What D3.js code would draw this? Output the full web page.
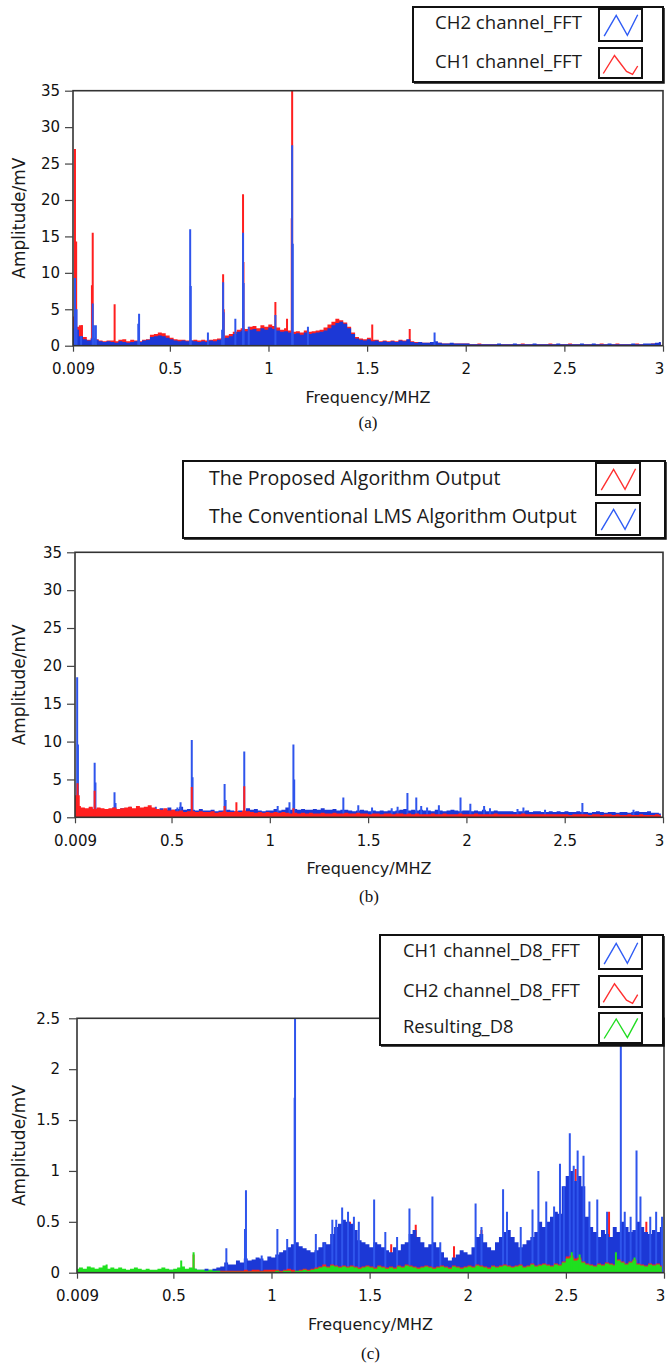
<!DOCTYPE html>
<html><head><meta charset="utf-8">
<script src="https://cdn.jsdelivr.net/npm/d3@7/dist/d3.min.js"></script>
<style>body{margin:0;background:#fff}svg{display:block}</style>
</head><body>
<svg id="chart" width="667" height="1369"></svg>
<script>
// ---------- data ----------
// spectra sampled on FFT bins starting at 0.009 MHz with 0.02 MHz spacing
const binStart = 0.009, binStep = 0.02;
const freqTicks = [0.009, 0.5, 1, 1.5, 2, 2.5, 3];
const ampTicksAB = [0, 5, 10, 15, 20, 25, 30, 35];
const ampTicksC = [0, 0.5, 1, 1.5, 2, 2.5];

// (a)
const aCH2Env = [
 2.4,2.2,1.3,0.9,0.7,1.0,0.8,0.6,0.5,0.6, 0.5,0.4,0.6,0.5,0.4,0.5,0.6,0.5,0.7,0.8,
 1.2,1.3,1.4,1.3,1.1,0.9,0.7,0.6,0.7,0.6, 0.7,0.6,0.5,0.6,0.5,0.7,0.6,0.8,0.9,1.1,
 1.3,1.6,1.9,2.1,2.0,2.2,2.3,2.0,2.4,2.2, 2.5,2.3,2.1,1.9,2.0,1.8,1.6,1.7,1.5,1.8,
 1.6,1.7,1.8,1.9,2.1,2.4,2.8,3.1,3.3,3.0, 2.4,1.6,1.0,0.8,0.7,0.9,0.6,0.7,0.5,0.6,
 0.5,0.6,0.5,0.7,0.6,0.9,0.5,0.4,0.5,0.4, 0.4,0.5,0.6,0.4,0.3,0.3,0.4,0.3,0.3,0.3,
 0.3,0.2,0.2,0.2,0.2,0.2,0.2,0.2,0.3,0.2, 0.2,0.2,0.3,0.2,0.2,0.2,0.2,0.3,0.2,0.2,
 0.2,0.2,0.2,0.3,0.2,0.2,0.2,0.2,0.2,0.3, 0.2,0.2,0.3,0.2,0.2,0.2,0.3,0.2,0.2,0.2,
 0.2,0.2,0.3,0.2,0.2,0.3,0.3,0.3,0.4,0.5];
const aCH1Env = [
 2.8,2.6,2.8,1.2,0.8,1.1,0.9,0.7,0.6,0.7, 0.7,0.6,0.8,0.9,0.6,0.8,0.7,0.6,0.8,0.9,
 1.5,1.6,1.8,1.7,1.4,1.1,0.9,0.8,0.8,0.7, 0.7,0.8,0.7,0.8,0.7,0.8,0.9,1.0,1.1,1.4,
 1.6,1.9,2.2,2.4,2.3,2.6,2.7,2.4,2.8,2.6, 2.9,2.7,2.5,2.2,2.4,2.1,1.9,2.0,1.8,2.1,
 1.9,2.0,2.1,2.2,2.5,2.9,3.3,3.7,3.5,3.2, 2.6,1.8,1.2,1.0,0.9,1.1,0.8,0.8,0.6,0.7,
 0.6,0.7,0.6,0.8,0.7,0.8,0.6,0.5,0.5,0.4, 0.4,0.5,0.4,0.4,0.3,0.3,0.3,0.3,0.3,0.3,
 0.3,0.2,0.2,0.3,0.2,0.2,0.2,0.2,0.2,0.2, 0.2,0.2,0.2,0.2,0.3,0.2,0.2,0.2,0.2,0.2,
 0.2,0.3,0.2,0.2,0.2,0.2,0.3,0.2,0.2,0.2, 0.2,0.2,0.2,0.2,0.3,0.2,0.2,0.2,0.3,0.2,
 0.2,0.2,0.2,0.3,0.2,0.2,0.2,0.3,0.3,0.4];
const aCH2Peaks = [[0.019,9.3],[0.027,5.0],[0.05,1.3],[0.109,5.8],[0.115,2.8],[0.125,2.8],[0.34,3.0],[0.344,4.4],
 [0.603,16.0],[0.606,8.2],[0.693,1.8],[0.765,2.2],[0.77,8.7],[0.773,4.6],[0.832,3.7],[0.871,15.5],[0.874,8.6],
 [0.9,2.6],[1.035,4.2],[1.12,27.5],[1.123,14],[1.2,2.6],[1.842,1.8]];
const aCH1Peaks = [[0.009,4.0],[0.019,27],[0.025,14.3],[0.054,2.8],[0.105,8.3],[0.109,15.5],[0.22,5.7],
 [0.77,9.8],[0.773,5.0],[0.871,20.8],[0.873,11.5],[1.035,6.0],[1.094,3.7],[1.118,17.5],[1.12,35],
 [1.41,2.5],[1.526,2.9],[1.716,2.3]];

// (b)
const bLMSEnv = [
 2.2,1.3,1.2,1.1,1.3,1.0,1.2,1.1,0.9,1.0, 1.3,1.0,1.2,1.1,1.3,1.0,1.1,1.2,1.0,1.3,
 1.1,1.0,1.2,1.0,1.3,1.0,1.1,1.4,1.0,1.1, 1.0,0.9,1.1,0.9,0.9,1.0,0.8,0.9,0.9,1.0,
 0.9,0.8,0.9,0.8,1.2,1.0,1.1,0.9,0.8,0.9, 0.9,1.1,0.9,1.0,1.3,1.0,1.1,1.0,1.1,1.0,
 1.0,1.1,1.0,1.2,1.0,1.0,1.1,0.9,1.0,1.0, 0.9,0.8,0.9,1.0,0.9,0.8,0.9,0.8,0.9,0.8,
 0.9,0.8,0.9,1.0,1.1,0.9,1.0,0.9,1.0,0.9, 0.9,0.8,1.0,0.9,0.8,0.9,1.0,0.9,0.8,0.9,
 0.9,0.8,0.9,0.8,1.0,0.8,0.8,0.9,0.8,0.8, 0.8,0.8,0.7,0.8,0.8,0.9,0.7,0.8,0.8,0.7,
 0.7,0.8,0.7,0.8,0.7,0.8,0.7,0.7,0.8,0.7, 0.7,0.6,0.7,0.8,0.7,0.6,0.7,0.7,0.6,0.7,
 0.7,0.6,0.7,0.8,0.7,0.7,0.8,0.6,0.6,0.5];
const bProposedEnv = [
 2.9,1.5,1.3,1.2,1.4,1.1,1.3,1.2,1.1,1.2, 1.3,1.1,1.2,1.3,1.4,1.2,1.5,1.3,1.4,1.6,
 1.3,1.1,1.0,1.2,0.9,1.0,0.8,0.9,0.7,0.8, 0.8,0.7,0.8,0.7,0.7,0.8,0.6,0.7,0.8,0.7,
 0.7,0.8,0.7,0.9,0.8,0.7,0.6,0.7,0.6,0.7, 0.6,0.7,0.6,0.7,0.6,0.5,0.6,0.5,0.6,0.5,
 0.6,0.5,0.5,0.6,0.5,0.5,0.6,0.5,0.5,0.6, 0.5,0.5,0.6,0.5,0.5,0.4,0.5,0.5,0.4,0.5,
 0.5,0.4,0.5,0.5,0.4,0.5,0.4,0.5,0.4,0.4, 0.4,0.5,0.4,0.4,0.5,0.4,0.4,0.4,0.5,0.4,
 0.4,0.4,0.5,0.4,0.4,0.4,0.4,0.5,0.4,0.4, 0.4,0.4,0.4,0.4,0.5,0.4,0.4,0.4,0.4,0.4,
 0.4,0.4,0.4,0.4,0.4,0.4,0.3,0.4,0.4,0.4, 0.4,0.3,0.4,0.4,0.3,0.4,0.4,0.3,0.4,0.3,
 0.3,0.4,0.3,0.3,0.4,0.3,0.3,0.3,0.4,0.3];
const bLMSPeaks = [[0.009,2.2],[0.02,18.5],[0.024,9.6],[0.109,7.2],[0.113,4.6],[0.21,3.3],[0.215,1.9],[0.29,1.4],
 [0.42,1.4],[0.53,1.3],[0.546,2.0],[0.603,10.2],[0.607,5.3],[0.77,4.4],[0.775,2.3],[0.87,8.7],[1.04,1.5],
 [1.1,2.0],[1.12,9.6],[1.124,5.0],[1.374,2.6],[1.45,1.6],[1.52,1.3],[1.62,1.2],[1.65,1.4],[1.70,3.2],
 [1.745,2.6],[1.77,1.5],[1.8,1.3],[1.86,1.6],[1.97,2.6],[2.02,1.8],[2.09,1.5],[2.12,1.2],[2.26,1.1],
 [2.29,1.3],[2.4,1.0],[2.59,1.9],[2.85,1.0]];
const bProposedPeaks = [[0.022,4.5],[0.028,2.9],[0.109,3.5],[0.603,4.0],[0.77,1.5],[0.83,2.0],[0.87,4.1],[1.12,1.2]];

// (c)
const cCH1Env = [
 0.01,0.01,0.01,0.01,0.01,0.01,0.01,0.01,0.01,0.01, 0.01,0.01,0.01,0.01,0.01,0.01,0.01,0.01,0.01,0.01,
 0.02,0.02,0.03,0.02,0.03,0.02,0.03,0.03,0.02,0.03, 0.04,0.03,0.03,0.04,0.03,0.04,0.05,0.06,0.10,0.08,
 0.08,0.12,0.10,0.14,0.12,0.13,0.15,0.14,0.12,0.16, 0.15,0.18,0.20,0.22,0.25,0.28,0.30,0.26,0.24,0.22,
 0.20,0.22,0.25,0.30,0.28,0.38,0.45,0.48,0.52,0.50, 0.48,0.42,0.32,0.30,0.28,0.25,0.30,0.28,0.25,0.22,
 0.20,0.25,0.22,0.28,0.30,0.38,0.42,0.35,0.30,0.25, 0.28,0.30,0.25,0.20,0.15,0.12,0.15,0.18,0.22,0.20,
 0.18,0.25,0.35,0.38,0.30,0.25,0.22,0.30,0.35,0.40, 0.42,0.35,0.30,0.25,0.28,0.32,0.35,0.40,0.50,0.45,
 0.50,0.55,0.60,0.58,0.85,0.95,1.00,0.90,0.95,0.85, 0.55,0.45,0.40,0.35,0.42,0.38,0.35,0.45,0.40,0.50,
 0.45,0.40,0.42,0.50,0.45,0.40,0.38,0.42,0.40,0.45];
const cCH2Env = [
 0.01,0.01,0.01,0.01,0.01,0.01,0.01,0.01,0.01,0.01, 0.01,0.01,0.01,0.01,0.01,0.01,0.01,0.01,0.01,0.01,
 0.01,0.01,0.01,0.01,0.01,0.01,0.01,0.01,0.01,0.01, 0.01,0.01,0.01,0.01,0.01,0.01,0.02,0.02,0.02,0.02,
 0.02,0.02,0.02,0.03,0.02,0.03,0.03,0.02,0.03,0.03, 0.03,0.03,0.02,0.03,0.04,0.03,0.02,0.03,0.04,0.03,
 0.04,0.05,0.06,0.08,0.06,0.08,0.07,0.06,0.07,0.06, 0.07,0.06,0.05,0.06,0.07,0.06,0.05,0.07,0.06,0.05,
 0.06,0.05,0.07,0.06,0.08,0.07,0.06,0.05,0.06,0.07, 0.06,0.05,0.06,0.07,0.06,0.05,0.07,0.06,0.05,0.06,
 0.07,0.06,0.08,0.07,0.06,0.05,0.07,0.06,0.07,0.08, 0.07,0.06,0.07,0.08,0.06,0.07,0.09,0.07,0.08,0.09,
 0.08,0.07,0.09,0.08,0.11,0.16,0.17,0.14,0.15,0.11, 0.09,0.08,0.07,0.09,0.08,0.10,0.09,0.08,0.13,0.11,
 0.09,0.11,0.13,0.09,0.08,0.07,0.09,0.08,0.09,0.07];
const cResultEnv = [
 0.04,0.05,0.04,0.06,0.05,0.04,0.05,0.07,0.04,0.05, 0.04,0.05,0.04,0.03,0.04,0.05,0.04,0.03,0.04,0.03,
 0.03,0.04,0.05,0.04,0.03,0.04,0.05,0.06,0.04,0.05, 0.04,0.03,0.03,0.02,0.03,0.02,0.02,0.01,0.01,0.01,
 0.01,0.01,0.01,0.01,0.01,0.01,0.01,0.01,0.01,0.01, 0.01,0.02,0.01,0.02,0.02,0.01,0.02,0.02,0.03,0.02,
 0.03,0.04,0.05,0.06,0.05,0.07,0.06,0.05,0.06,0.05, 0.06,0.05,0.04,0.05,0.06,0.05,0.04,0.06,0.05,0.04,
 0.05,0.04,0.06,0.05,0.07,0.06,0.05,0.04,0.05,0.06, 0.05,0.04,0.05,0.06,0.05,0.04,0.06,0.05,0.04,0.05,
 0.06,0.05,0.07,0.06,0.05,0.04,0.06,0.05,0.06,0.07, 0.06,0.05,0.06,0.07,0.05,0.06,0.08,0.06,0.07,0.08,
 0.07,0.06,0.08,0.07,0.10,0.14,0.15,0.12,0.13,0.10, 0.08,0.07,0.06,0.08,0.07,0.09,0.08,0.07,0.12,0.10,
 0.08,0.10,0.12,0.08,0.07,0.06,0.08,0.07,0.08,0.06];
const cCH1Peaks = [[0.77,0.24],[0.865,0.43],[0.87,0.81],[0.95,0.17],[1.03,0.43],[1.08,0.33],[1.118,1.72],[1.12,2.6],
 [1.226,0.38],[1.27,0.3],[1.31,0.52],[1.33,0.52],[1.36,0.64],[1.39,0.6],[1.42,0.55],[1.445,0.5],[1.523,0.72],
 [1.58,0.4],[1.64,0.35],[1.703,0.63],[1.82,0.75],[1.86,0.3],[2.04,0.68],[2.07,0.45],[2.18,0.82],[2.2,0.6],
 [2.27,0.45],[2.33,0.62],[2.36,1.0],[2.4,0.7],[2.44,0.65],[2.47,1.07],[2.49,0.85],[2.52,1.37],[2.54,1.05],
 [2.56,1.2],[2.59,1.15],[2.62,0.7],[2.66,0.72],[2.71,0.6],[2.78,2.5],[2.8,0.6],[2.83,0.55],[2.86,1.2],
 [2.88,0.75],[2.93,0.55],[2.96,0.6],[2.99,0.55]];
const cCH2Peaks = [[0.603,0.18],[1.40,0.5],[1.61,0.28],[1.735,0.47],[1.93,0.26],[2.07,0.42],[2.47,0.62],
 [2.55,1.02],[2.72,0.6],[2.91,0.5]];
const cResultPeaks = [[0.16,0.08],[0.54,0.12],[0.603,0.2],[2.53,0.2],[2.57,0.18],[2.755,0.2],[2.85,0.15]];

const legendA = ["CH2 channel_FFT", "CH1 channel_FFT"];
const legendB = ["The Proposed Algorithm Output", "The Conventional LMS Algorithm Output"];
const legendC = ["CH1 channel_D8_FFT", "CH2 channel_D8_FFT", "Resulting_D8"];
const captions = ["(a)", "(b)", "(c)"];

// ---------- styling ----------
const BLUE = "#1c38d6", BLUE_PK = "#2f55ec", RED = "#ff1f1f", GREEN = "#1fe01f";
const svg = d3.select("#chart");
const toPts = arr => arr.map((v, i) => ({f: binStart + i * binStep, v}));

const panels = [
 {key: "a", left: 73, right: 663, top: 90.7, bottom: 345.7, ymax: 35, yt: ampTicksAB, cap: captions[0], capDy: 82,
  layers: [
   {type: "env", data: aCH1Env, color: RED}, {type: "pk", data: aCH1Peaks, color: RED},
   {type: "env", data: aCH2Env, color: BLUE}, {type: "pk", data: aCH2Peaks, color: BLUE_PK}],
  legend: {x: 413, y: 7, w: 250, h: 75, tx: 435, base: [29, 68], target: 147,
           sw: [{y: 9, h: 32, c: "#2f5cf5", s: "zig"}, {y: 48, h: 30, c: "#ff3030", s: "wave"}], labels: legendA}},
 {key: "b", left: 75, right: 663, top: 552.3, bottom: 817.3, ymax: 35, yt: ampTicksAB, cap: captions[1], capDy: 85,
  layers: [
   {type: "env", data: bLMSEnv, color: BLUE}, {type: "pk", data: bLMSPeaks, color: BLUE_PK},
   {type: "env", data: bProposedEnv, color: RED}, {type: "pk", data: bProposedPeaks, color: RED}],
  legend: {x: 183, y: 461, w: 482, h: 77, tx: 209, base: [485, 523], target: 368,
           sw: [{y: 463, h: 32, c: "#ff3030", s: "zig"}, {y: 503, h: 32, c: "#2f5cf5", s: "zig"}], labels: legendB}},
 {key: "c", left: 77, right: 664, top: 1018.3, bottom: 1272.7, ymax: 2.5, yt: ampTicksC, cap: captions[2], capDy: 86,
  layers: [
   {type: "pk", data: cCH2Peaks, color: RED},
   {type: "env", data: cCH1Env, color: BLUE}, {type: "pk", data: cCH1Peaks, color: BLUE_PK},
   {type: "env", data: cCH2Env, color: RED},
   {type: "env", data: cResultEnv, color: GREEN}, {type: "pk", data: cResultPeaks, color: GREEN}],
  legend: {x: 380, y: 935, w: 283, h: 110, tx: 403, base: [957, 997, 1033], target: 177,
           sw: [{y: 937, h: 32, c: "#2f5cf5", s: "zig"}, {y: 976, h: 31, c: "#ff3030", s: "wave"}, {y: 1013, h: 30, c: "#22dd22", s: "zig"}],
           labels: legendC}}
];

const tickFont = "'DejaVu Sans', Verdana, sans-serif";

panels.forEach(p => {
  const x = d3.scaleLinear().domain([0.009, 3]).range([p.left, p.right]);
  const y = d3.scaleLinear().domain([0, p.ymax]).range([p.bottom, p.top]);
  const g = svg.append("g");
  const clipId = "clip-" + p.key;
  svg.append("clipPath").attr("id", clipId).append("rect")
     .attr("x", p.left).attr("y", p.top).attr("width", p.right - p.left).attr("height", p.bottom - p.top);
  const plot = g.append("g").attr("clip-path", `url(#${clipId})`);

  const area = d3.area().x(d => x(d.f)).y0(y(0)).y1(d => y(d.v)).curve(d3.curveStep);
  p.layers.forEach(L => {
    if (L.type === "env") {
      plot.append("path").datum(toPts(L.data)).attr("d", area).attr("fill", L.color);
    } else {
      plot.selectAll(null).data(L.data).join("line")
        .attr("x1", d => x(d[0])).attr("x2", d => x(d[0]))
        .attr("y1", y(0)).attr("y2", d => y(d[1]))
        .attr("stroke", L.color).attr("stroke-width", 2);
    }
  });

  // frame
  g.append("rect").attr("x", p.left).attr("y", p.top).attr("width", p.right - p.left).attr("height", p.bottom - p.top)
   .attr("fill", "none").attr("stroke", "#333").attr("stroke-width", 1.6);

  // axes
  const ya = g.append("g").attr("transform", `translate(${p.left},0)`)
    .call(d3.axisLeft(y).tickValues(p.yt).tickFormat(d => String(d)).tickSize(8).tickPadding(p.key === "c" ? 9 : 5));
  const xa = g.append("g").attr("transform", `translate(0,${p.bottom})`)
    .call(d3.axisBottom(x).tickValues(freqTicks).tickFormat(d => String(d)).tickSize(6).tickPadding(12));
  [ya, xa].forEach(a => {
    a.select(".domain").remove();
    a.selectAll(".tick line").attr("stroke", "#444").attr("stroke-width", 1.2);
    a.selectAll(".tick text").attr("fill", "#111").style("font-family", tickFont).style("font-size", "15px");
  });
  xa.selectAll(".tick text").filter(d => d === 3).attr("dx", "-4");

  // axis titles
  g.append("text").attr("transform", `translate(19,${(p.top + p.bottom) / 2}) rotate(-90)`)
   .attr("text-anchor", "middle").attr("dy", "0.35em")
   .style("font-family", tickFont).style("font-size", "17px").attr("fill", "#1a1a1a").text("Amplitude/mV");
  g.append("text").attr("x", (p.left + p.right) / 2).attr("y", p.bottom + 57).attr("text-anchor", "middle")
   .style("font-family", tickFont).style("font-size", "16px").attr("fill", "#1a1a1a").text("Frequency/MHZ");
  g.append("text").attr("x", (p.left + p.right) / 2).attr("y", p.bottom + p.capDy).attr("text-anchor", "middle")
   .style("font-family", "'Liberation Serif', 'Times New Roman', serif").style("font-size", "17px").attr("fill", "#111").text(p.cap);

  // legend
  const L = p.legend;
  const lg = svg.append("g");
  lg.append("rect").attr("x", L.x).attr("y", L.y).attr("width", L.w).attr("height", L.h)
    .attr("fill", "#fff").attr("stroke", "#111").attr("stroke-width", 2);
  lg.append("path").attr("d", `M${L.x + 1},${L.y + L.h + 1}H${L.x + L.w + 1}V${L.y + 1}`)
    .attr("fill", "none").attr("stroke", "#111").attr("stroke-width", 1.5);
  const texts = lg.selectAll("text.lab").data(L.labels).join("text").attr("class", "lab")
    .attr("x", L.tx).attr("y", (d, i) => L.base[i])
    .style("font-family", "'Open Sans', 'Noto Sans', sans-serif").style("font-size", "16px").attr("fill", "#1a1a1a")
    .text(d => d);
  let maxW = 0; texts.each(function () { maxW = Math.max(maxW, this.getComputedTextLength()); });
  texts.style("font-size", (16 * L.target / maxW).toFixed(2) + "px");
  L.sw.forEach(s => {
    const sx = p.key === "b" ? 596 : 599, sw = p.key === "b" ? 44 : 43;
    lg.append("rect").attr("x", sx).attr("y", s.y).attr("width", sw).attr("height", s.h)
      .attr("fill", "#fff").attr("stroke", "#111").attr("stroke-width", 2);
    const pts = s.s === "zig"
      ? [[0.12, 0.85], [0.4, 0.2], [0.66, 0.82], [0.9, 0.18]]
      : [[0.1, 0.85], [0.36, 0.25], [0.64, 0.78], [0.78, 0.88], [0.9, 0.6]];
    lg.append("path").attr("d", d3.line()(pts.map(q => [sx + q[0] * sw, s.y + q[1] * s.h])))
      .attr("fill", "none").attr("stroke", s.c).attr("stroke-width", 1.4);
  });
});
</script>
</body></html>
